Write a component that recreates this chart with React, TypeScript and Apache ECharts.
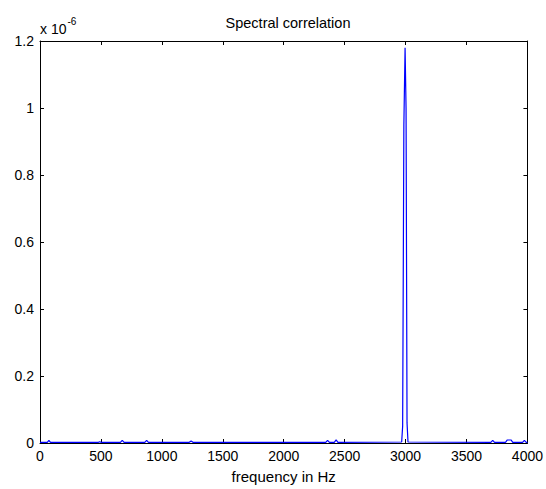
import React, { useEffect, useRef } from "react";
import * as echarts from "echarts";

// frequency in Hz
const freqHz = [
  0, 60, 73, 86, 480, 490, 500, 660, 675, 690, 860, 875, 890, 1225, 1240, 1255,
  2345, 2360, 2375, 2415, 2430, 2445, 2968, 2976, 2986, 2996, 3004, 3012, 3020,
  3700, 3715, 3730, 3820, 3835, 3850, 3865, 3880, 3960, 3975, 3990, 4000,
];
// spectral correlation, in units of 1e-6
const corrValues = [
  0.002, 0.002, 0.008, 0.002, 0.002, 0.004, 0.002, 0.002, 0.008, 0.002, 0.002, 0.008, 0.002, 0.002, 0.006, 0.002,
  0.002, 0.008, 0.002, 0.002, 0.009, 0.002, 0.003, 0.05, 0.95, 1.18, 1.0, 0.06, 0.003,
  0.002, 0.008, 0.002, 0.002, 0.009, 0.009, 0.009, 0.002, 0.002, 0.008, 0.002, 0.002,
];
const xTicks = [0, 500, 1000, 1500, 2000, 2500, 3000, 3500, 4000];
const yTicks = [0, 0.2, 0.4, 0.6, 0.8, 1, 1.2];

const FONT = "'Liberation Sans', Arial, sans-serif";

export default function App() {
  const ref = useRef<HTMLDivElement>(null);
  useEffect(() => {
    if (!ref.current) return;
    const chart = echarts.init(ref.current, null, { renderer: "svg" });
    const data = freqHz.map((f, i) => [f, corrValues[i]]);
    const xMin = xTicks[0];
    const xMax = xTicks[xTicks.length - 1];
    const xInt = xTicks[1] - xTicks[0];
    const yMin = yTicks[0];
    const yMax = yTicks[yTicks.length - 1];
    const yInt = 0.2;
    const labelStyle = { color: "#000", fontFamily: FONT, fontSize: 14 };
    const tick = { show: true, inside: true, length: 4, lineStyle: { color: "#000" } };
    const line = { show: true, onZero: false, lineStyle: { color: "#000", width: 1 } };
    chart.setOption({
      animation: false,
      backgroundColor: "#fff",
      title: {
        text: "Spectral correlation",
        left: 283,
        textAlign: "center",
        top: 10,
        textStyle: { fontFamily: FONT, fontSize: 14.5, fontWeight: "normal", color: "#000" },
      },
      grid: { left: 40, right: 16, top: 41, bottom: 43, containLabel: false },
      graphic: [
        {
          type: "text",
          left: 40,
          top: 16,
          style: {
            text: "{a|x 10}{b|-6}",
            rich: {
              a: { fontFamily: FONT, fontSize: 14, color: "#000", verticalAlign: "bottom", lineHeight: 20 },
              b: { fontFamily: FONT, fontSize: 10, color: "#000", verticalAlign: "top", lineHeight: 20, padding: [0, 0, 8, 1] },
            },
          },
        },
      ],
      xAxis: [
        {
          type: "value",
          min: xMin,
          max: xMax,
          interval: xInt,
          name: "frequency in Hz",
          nameLocation: "middle",
          nameGap: 26,
          nameTextStyle: { ...labelStyle, fontSize: 15 },
          axisLine: line,
          axisTick: tick,
          axisLabel: { ...labelStyle, margin: 6, formatter: (v: number) => String(v) },
          splitLine: { show: false },
        },
        {
          type: "value",
          position: "top",
          min: xMin,
          max: xMax,
          interval: xInt,
          axisLine: line,
          axisTick: tick,
          axisLabel: { show: false },
          splitLine: { show: false },
        },
      ],
      yAxis: [
        {
          type: "value",
          min: yMin,
          max: yMax,
          interval: yInt,
          axisLine: line,
          axisTick: tick,
          axisLabel: {
            ...labelStyle,
            margin: 6,
            formatter: (v: number) => String(Number(v.toFixed(1))),
          },
          splitLine: { show: false },
        },
        {
          type: "value",
          position: "right",
          min: yMin,
          max: yMax,
          interval: yInt,
          axisLine: line,
          axisTick: tick,
          axisLabel: { show: false },
          splitLine: { show: false },
        },
      ],
      series: [
        {
          type: "line",
          data,
          xAxisIndex: 0,
          yAxisIndex: 0,
          symbol: "none",
          clip: false,
          lineStyle: { color: "#0000ff", width: 1.2 },
          z: 5,
        },
      ],
    });
    return () => chart.dispose();
  }, []);
  return <div ref={ref} style={{ width: 546, height: 489, position: "absolute", left: 0, top: 0 }} />;
}
